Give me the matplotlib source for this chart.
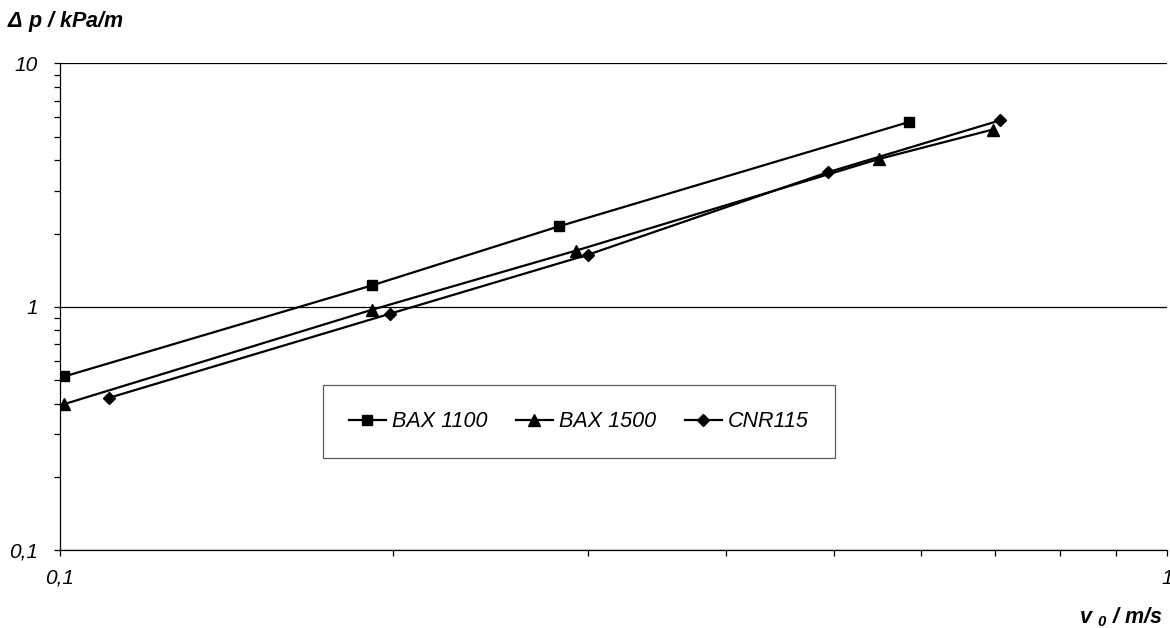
import matplotlib
matplotlib.use("Agg")
import matplotlib.pyplot as plt
from matplotlib.ticker import LogLocator, NullFormatter

plt.rcParams['font.family'] = ['Liberation Sans', 'DejaVu Sans']
plt.rcParams['mathtext.fontset'] = 'custom'
plt.rcParams['mathtext.it'] = 'Liberation Sans:italic:bold'
plt.rcParams['mathtext.rm'] = 'Liberation Sans:italic:bold'

# Data
bax1100_v = [0.101, 0.1915, 0.2824, 0.585]
bax1100_dp = [0.517, 1.224, 2.14, 5.75]
bax1500_v = [0.101, 0.1915, 0.2925, 0.5495, 0.696]
bax1500_dp = [0.398, 0.972, 1.70, 4.05, 5.35]
cnr115_v = [0.1108, 0.1988, 0.3001, 0.494, 0.706]
cnr115_dp = [0.422, 0.936, 1.637, 3.57, 5.83]

series_labels = ["BAX 1100", "BAX 1500", "CNR115"]
x_ticks = [0.1, 1]
x_ticklabels = ["0,1", "1"]
y_ticks = [0.1, 1, 10]
y_ticklabels = ["0,1", "1", "10"]

fig = plt.figure(figsize=(11.7, 6.28), dpi=100)
ax = fig.add_axes([0.0509, 0.1242, 0.9465, 0.7747])

ax.plot(bax1100_v, bax1100_dp, color='black', lw=1.6, marker='s', ms=7.5, label=series_labels[0])
ax.plot(bax1500_v, bax1500_dp, color='black', lw=1.6, marker='^', ms=8, label=series_labels[1])
ax.plot(cnr115_v, cnr115_dp, color='black', lw=1.6, marker='D', ms=6, label=series_labels[2])

ax.set_xscale('log')
ax.set_yscale('log')
ax.set_xlim(0.1, 1)
ax.set_ylim(0.1, 10)

ax.xaxis.set_minor_locator(LogLocator(base=10, subs=range(2, 10)))
ax.yaxis.set_minor_locator(LogLocator(base=10, subs=range(2, 10)))
ax.xaxis.set_minor_formatter(NullFormatter())
ax.yaxis.set_minor_formatter(NullFormatter())
ax.set_xticks(x_ticks)
ax.set_xticklabels(x_ticklabels, fontsize=15, fontstyle='italic')
ax.set_yticks(y_ticks)
ax.set_yticklabels(y_ticklabels, fontsize=15, fontstyle='italic')

ax.tick_params(which='both', direction='out', length=4.5, width=0.9, color='black')
ax.tick_params(axis='x', which='major', pad=9)
ax.tick_params(axis='y', which='major', pad=11)

for s in ['top', 'right']:
    ax.spines[s].set_visible(False)
for s in ['left', 'bottom']:
    ax.spines[s].set_linewidth(0.9)

ax.yaxis.grid(True, which='major', color='black', lw=0.9)
ax.set_axisbelow(True)

leg = ax.legend(loc='center', bbox_to_anchor=(0.238, 0.183, 0.462, 0.162), mode='expand',
                ncol=3, frameon=True, fancybox=False, edgecolor='#333333',
                prop={'size': 15.5, 'style': 'italic'}, handlelength=1.7, handletextpad=0.3,
                borderpad=1.2, borderaxespad=0, columnspacing=1.5)
leg.get_frame().set_linewidth(0.9)

fig.text(7 / 1170, 1 - 22 / 628, r'$\Delta$ p / kPa/m', fontsize=15.5, fontweight='bold',
         fontstyle='italic', ha='left', va='center')
fig.text(1162 / 1170, 1 - 617 / 628, r'v $_{0}$ / m/s', fontsize=15.5, fontweight='bold',
         fontstyle='italic', ha='right', va='center')

fig.savefig('out.png', dpi=100)
